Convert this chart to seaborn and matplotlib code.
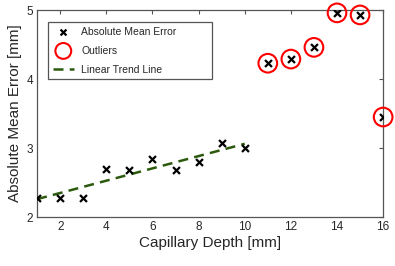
import numpy as np
import pandas as pd
import matplotlib
matplotlib.use("Agg")
import matplotlib.pyplot as plt
import seaborn as sns

depth = [1, 2, 3, 4, 5, 6, 7, 8, 9, 10, 11, 12, 13, 14, 15, 16]
error = [2.28, 2.28, 2.28, 2.70, 2.68, 2.84, 2.68, 2.80, 3.07, 3.00,
         4.23, 4.29, 4.46, 4.96, 4.93, 3.45]
outlier_depth = [11, 12, 13, 14, 15, 16]

sns.set_style("white")
plt.rcParams['font.family'] = ['Liberation Sans', 'DejaVu Sans']

data = pd.DataFrame({"depth": depth, "error": error})
out = data[data["depth"].isin(outlier_depth)]
inl = data[~data["depth"].isin(outlier_depth)]

# linear fit on the non-outlier points
slope, icpt = np.polyfit(inl["depth"], inl["error"], 1)
trend = pd.DataFrame({"depth": [inl["depth"].min(), inl["depth"].max()]})
trend["error"] = slope * trend["depth"] + icpt

fig = plt.figure(figsize=(3.95, 2.66), dpi=100)
ax = fig.add_axes([0.094, 0.184, 0.876, 0.778])

sns.lineplot(data=trend, x="depth", y="error", ax=ax, color="#2b5a0c",
             linestyle=(0, (4, 2.5)), linewidth=1.8, label="Linear Trend Line", zorder=2)
sns.scatterplot(data=data, x="depth", y="error", ax=ax, marker="x", color="black",
                s=25, linewidth=1.6, label="Absolute Mean Error", zorder=3)
sns.scatterplot(data=out, x="depth", y="error", ax=ax, marker="o", facecolor="none",
                edgecolor="#ff0000", s=180, linewidth=1.5, label="Outliers", zorder=4, clip_on=False)

ax.set_xlim(1, 16)
ax.set_ylim(2, 5)
ax.set_xticks([2, 4, 6, 8, 10, 12, 14, 16])
ax.set_yticks([2, 3, 4, 5])
ax.tick_params(direction="in", length=3, width=0.8, color="#555555", labelsize=8.5,
               top=True, right=True, pad=3)
for sp in ax.spines.values():
    sp.set_color("#555555")
    sp.set_linewidth(0.9)
ax.set_xlabel("Capillary Depth [mm]", fontsize=11, labelpad=2)
ax.set_ylabel("Absolute Mean Error [mm]", fontsize=11, labelpad=3)

h, l = ax.get_legend_handles_labels()
order = [l.index("Absolute Mean Error"), l.index("Outliers"), l.index("Linear Trend Line")]
leg = ax.legend([h[i] for i in order], [l[i] for i in order], loc="upper left",
                bbox_to_anchor=(0.032, 0.662, 0.474, 0.28), mode="expand", borderaxespad=0,
                fontsize=7.5, frameon=True, fancybox=False, markerscale=0.85,
                edgecolor="#555555", framealpha=1, handlelength=2.0, borderpad=0.45,
                labelspacing=0.85, handletextpad=0.7)
leg.get_frame().set_linewidth(0.9)

fig.savefig("out.png", dpi=100)
